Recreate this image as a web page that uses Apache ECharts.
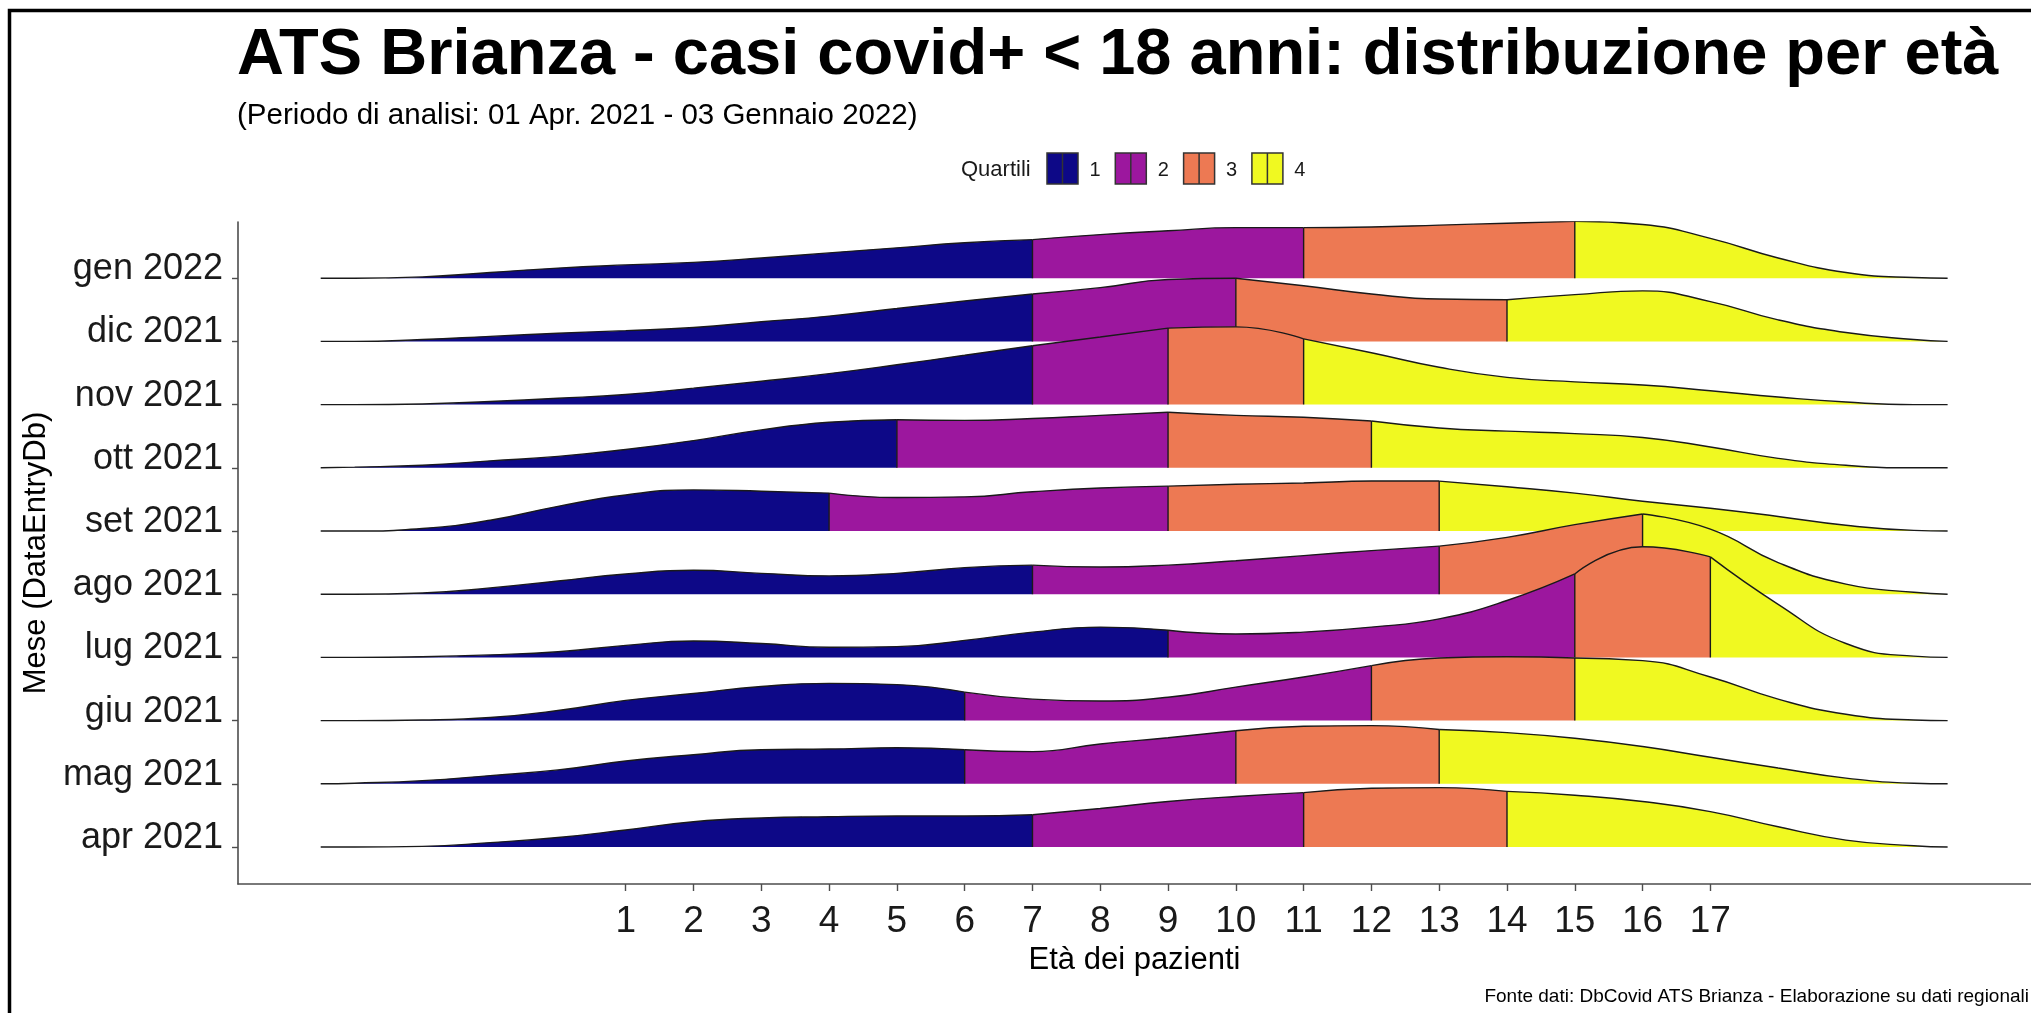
<!DOCTYPE html>
<html><head><meta charset="utf-8">
<script src="https://cdn.jsdelivr.net/npm/echarts@6/dist/echarts.min.js"></script>
<style>html,body{margin:0;padding:0;background:#fff}#c{width:2031px;height:1013px}</style>
</head><body><div id="c"></div>
<script>
// ---- data ----
const months = ['apr 2021','mag 2021','giu 2021','lug 2021','ago 2021','set 2021','ott 2021','nov 2021','dic 2021','gen 2022'];
const ages = [-3.5,-3,-2,-1,0,1,2,3,4,5,6,7,8,9,10,11,12,13,14,15,16,17,18,19,20,20.5];
const xTicks = [1,2,3,4,5,6,7,8,9,10,11,12,13,14,15,16,17];
const quartileNames = ['1','2','3','4'];

const apr2021 = [0,0,0.01,0.07,0.15,0.27,0.40,0.46,0.48,0.49,0.49,0.51,0.61,0.72,0.80,0.86,0.93,0.94,0.88,0.82,0.72,0.56,0.32,0.11,0.02,0];
const mag2021 = [0,0.01,0.05,0.13,0.22,0.36,0.46,0.54,0.55,0.57,0.54,0.51,0.63,0.73,0.84,0.91,0.92,0.86,0.81,0.72,0.59,0.42,0.25,0.09,0.01,0];
const giu2021 = [0,0,0.01,0.05,0.16,0.32,0.43,0.54,0.59,0.57,0.45,0.34,0.31,0.37,0.53,0.69,0.87,0.99,1.01,0.99,0.95,0.69,0.34,0.10,0.01,0];
const lug2021 = [0,0,0.01,0.04,0.09,0.19,0.26,0.22,0.16,0.17,0.27,0.40,0.48,0.43,0.37,0.40,0.48,0.61,0.90,1.32,1.75,1.59,0.84,0.22,0.02,0];
const ago2021 = [0,0,0.02,0.10,0.21,0.32,0.38,0.33,0.29,0.33,0.42,0.46,0.43,0.46,0.53,0.61,0.69,0.76,0.90,1.10,1.27,1.03,0.50,0.16,0.03,0];
const set2021 = [0,0,0.04,0.17,0.39,0.57,0.65,0.63,0.60,0.53,0.54,0.62,0.68,0.71,0.74,0.76,0.79,0.79,0.70,0.60,0.47,0.36,0.23,0.09,0.01,0];
const ott2021 = [0,0.01,0.04,0.11,0.18,0.29,0.43,0.60,0.72,0.76,0.75,0.78,0.83,0.88,0.83,0.80,0.74,0.63,0.58,0.54,0.48,0.33,0.15,0.04,0,0];
const nov2021 = [0,0,0.01,0.05,0.10,0.16,0.26,0.37,0.49,0.63,0.78,0.93,1.07,1.21,1.23,1.04,0.82,0.59,0.43,0.36,0.31,0.22,0.12,0.04,0,0];
const dic2021 = [0,0,0.03,0.08,0.13,0.17,0.22,0.31,0.40,0.52,0.64,0.75,0.85,0.98,1.00,0.88,0.75,0.67,0.66,0.74,0.80,0.63,0.34,0.14,0.03,0];
const gen2022 = [0,0,0.02,0.09,0.16,0.21,0.25,0.32,0.40,0.48,0.56,0.61,0.69,0.75,0.80,0.80,0.81,0.84,0.87,0.90,0.85,0.63,0.32,0.09,0.01,0];
const densities = [apr2021,mag2021,giu2021,lug2021,ago2021,set2021,ott2021,nov2021,dic2021,gen2022];

// quartile break ages per month (same order as months)
const quartileBreaks = [[7,11,14],[6,10,13],[6,12,15],[9,15,17],[7,13,16],[4,9,13],[5,9,12],[7,9,11],[7,10,14],[7,11,15]];

// ---- styles ----
const palette = ['#0D0887','#9C179E','#ED7953','#F0F921'];
const FONT = '"Liberation Sans", Arial, Helvetica, sans-serif';
const LINE = '#1a1a1a';

const series = [];
for (let k = months.length - 1; k >= 0; k--) {
  const dens = densities[k], br = quartileBreaks[k];
  const edges = [ages[0], ...br, ages[ages.length - 1]];
  const zRow = 10 + (months.length - 1 - k);
  for (let j = 0; j < 4; j++) {
    const lo = edges[j], hi = edges[j + 1];
    const data = [];
    ages.forEach((a, i) => { if (a >= lo && a <= hi) data.push([a, k + dens[i]]); });
    series.push({
      type: 'line', name: quartileNames[j], data, smooth: 0.5, z: zRow,
      symbol: 'none', silent: true, animation: false,
      lineStyle: { color: LINE, width: 1.4 },
      areaStyle: { color: palette[j], opacity: 1, origin: k }
    });
  }
  br.forEach(q => {
    const i = ages.indexOf(q);
    series.push({
      type: 'line', data: [[q, k], [q, k + dens[i]]], symbol: 'none', silent: true, animation: false, z: zRow,
      lineStyle: { color: LINE, width: 1.4 }
    });
  });
}

const chart = echarts.init(document.getElementById('c'), null, { renderer: 'canvas' });
const legendEls = [{
  type: 'text', x: 961, y: 170,
  style: { text: 'Quartili', font: '22px ' + FONT, fill: '#1a1a1a', align: 'left', verticalAlign: 'middle' }
}];
quartileNames.forEach((nm, j) => {
  const bx = 1047 + 68.3 * j;
  legendEls.push({ type: 'rect', shape: { x: bx, y: 153, width: 31, height: 31 },
    style: { fill: palette[j], stroke: '#333', lineWidth: 1.5 } });
  legendEls.push({ type: 'line', shape: { x1: bx + 15.5, y1: 153, x2: bx + 15.5, y2: 184 },
    style: { stroke: '#333', lineWidth: 1.5 } });
  legendEls.push({ type: 'text', x: 1095 + 68.3 * j, y: 170,
    style: { text: nm, font: '20px ' + FONT, fill: '#1a1a1a', align: 'center', verticalAlign: 'middle' } });
});

chart.setOption({
  animation: false,
  backgroundColor: '#fff',
  title: [
    { text: 'ATS Brianza - casi covid+ < 18 anni: distribuzione per età', left: 237, top: 24, padding: 0,
      textStyle: { fontSize: 65, fontWeight: 'bold', fontFamily: FONT, color: '#000' } },
    { text: '(Periodo di analisi: 01 Apr. 2021 - 03 Gennaio 2022)', left: 237, top: 101, padding: 0,
      textStyle: { fontSize: 29.5, fontWeight: 'normal', fontFamily: FONT, color: '#000' } }
  ],
  grid: { left: 238, right: 0, top: 222, bottom: 129, containLabel: false },
  xAxis: {
    type: 'value', min: -4.72, max: 21.73,
    name: 'Età dei pazienti', nameLocation: 'middle', nameGap: 73,
    nameTextStyle: { fontSize: 31, fontFamily: FONT, color: '#000', verticalAlign: 'middle' },
    axisLine: { show: true, onZero: false, lineStyle: { color: '#4d4d4d', width: 1.6 } },
    axisTick: { show: true, length: 7, customValues: xTicks, lineStyle: { color: '#4d4d4d', width: 1.4 } },
    axisLabel: { customValues: xTicks, formatter: v => String(v), fontSize: 37, fontFamily: FONT, color: '#1a1a1a',
      verticalAlign: 'middle', margin: 38 },
    splitLine: { show: false }
  },
  yAxis: {
    type: 'value', min: -0.585, max: 9.889,
    name: 'Mese (DataEntryDb)', nameLocation: 'middle', nameGap: 196, nameRotate: 90,
    nameTextStyle: { fontSize: 31, fontFamily: FONT, color: '#000', verticalAlign: 'middle' },
    axisLine: { show: true, onZero: false, lineStyle: { color: '#4d4d4d', width: 1.6 } },
    axisTick: { show: true, length: 6, customValues: months.map((m, i) => i), lineStyle: { color: '#4d4d4d', width: 1.4 } },
    axisLabel: { customValues: months.map((m, i) => i), formatter: v => months[Math.round(v)] || '',
      fontSize: 36, fontFamily: FONT, color: '#1a1a1a', margin: 15, verticalAlign: 'bottom', lineHeight: 18 },
    splitLine: { show: false }
  },
  graphic: [
    { type: 'rect', shape: { x: 9.5, y: 10.5, width: 2200, height: 1200 }, style: { fill: 'none', stroke: '#000', lineWidth: 3.5 }, silent: true },
    ...legendEls,
    { type: 'text', x: 2029, y: 997,
      style: { text: 'Fonte dati: DbCovid ATS Brianza - Elaborazione su dati regionali', font: '19px ' + FONT, fill: '#000', align: 'right', verticalAlign: 'middle' } }
  ],
  series
});
</script>
</body></html>
